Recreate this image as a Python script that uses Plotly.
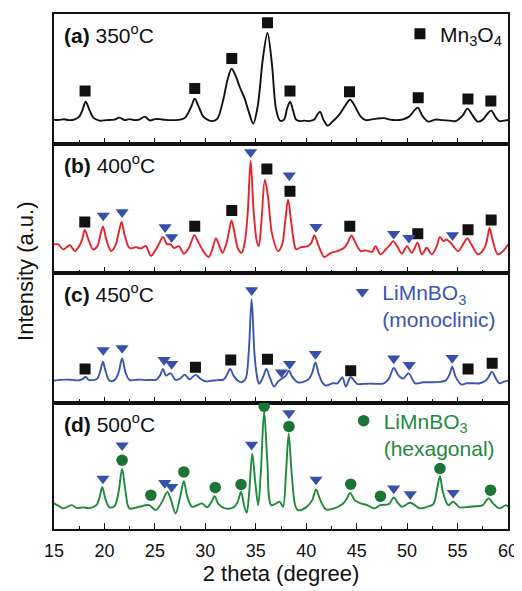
import plotly.graph_objects as go

# ---------------- data ----------------
a_x = [15.0, 15.5, 16.0, 16.5, 17.0, 17.5, 17.8, 18.14, 18.5, 18.9, 19.5, 20.2, 21.0, 21.5, 22.0, 22.5,
       23.0, 23.5, 24.0, 24.5, 25.0, 25.5, 26.0, 26.5, 27.0, 27.5, 28.0, 28.6, 28.95, 29.3, 29.8, 30.3,
       30.7, 31.2, 31.8, 32.2, 32.6, 33.0, 33.4, 33.9, 34.3, 34.75, 35.2, 35.7, 36.16, 36.6, 37.0, 37.4,
       37.8, 38.1, 38.4, 38.7, 39.0, 39.4, 39.8, 40.3, 40.8, 41.1, 41.37, 41.7, 42.12, 42.6, 43.2, 43.8,
       44.35, 44.9, 45.4, 45.9, 46.4, 47.0, 47.7, 48.3, 48.9, 49.5, 50.2, 50.7, 51.06, 51.5, 52.1, 52.8,
       53.5, 54.2, 54.8, 55.5, 55.98, 56.5, 57.0, 57.5, 57.9, 58.33, 58.8, 59.15, 59.6, 60.0]
a_y = [23.7, 23.7, 24.3, 23.5, 24.0, 27.0, 33.0, 42.0, 34.0, 26.0, 23.0, 23.5, 24.0, 26.0, 23.5, 24.5,
       23.5, 24.3, 27.0, 23.2, 24.5, 24.5, 23.7, 23.5, 23.5, 24.0, 26.0, 37.0, 45.0, 38.0, 27.0, 23.5,
       22.5, 25.0, 45.0, 64.0, 75.0, 68.0, 57.0, 45.0, 32.0, 20.0, 38.0, 85.0, 111.0, 80.0, 35.0, 23.0,
       24.0, 35.0, 42.0, 33.0, 24.0, 22.5, 23.0, 22.5, 24.0, 29.0, 32.0, 24.0, 18.0, 22.0, 28.0, 37.0,
       44.0, 36.0, 27.0, 23.5, 24.0, 25.0, 25.5, 24.0, 23.5, 24.0, 27.0, 33.0, 36.0, 28.0, 22.0, 24.0,
       23.5, 23.0, 22.5, 28.0, 35.0, 28.0, 22.0, 24.0, 29.0, 33.0, 26.0, 22.5, 23.0, 23.7]

b_x = [15.0, 15.43, 15.92, 16.57, 17.06, 17.5, 17.8, 18.05, 18.4, 18.87, 19.3, 19.55, 19.85, 20.2, 20.67,
       21.1, 21.4, 21.7, 22.0, 22.4, 22.63, 23.12, 23.61, 24.11, 24.6, 25.0, 25.4, 25.8, 26.2, 26.56,
       26.9, 27.38, 27.87, 28.3, 28.6, 28.92, 29.3, 29.8, 30.33, 30.7, 31.05, 31.4, 31.7, 32.1, 32.35,
       32.6, 32.9, 33.25, 33.6, 33.9, 34.2, 34.49, 34.8, 35.1, 35.3, 35.55, 35.9, 36.2, 36.6, 37.21,
       37.6, 37.9, 38.2, 38.5, 38.8, 39.0, 39.5, 40.16, 40.5, 40.81, 41.2, 41.79, 42.45, 43.1, 43.76,
       44.1, 44.48, 44.9, 45.4, 45.89, 46.54, 46.87, 47.36, 47.9, 48.3, 48.61, 49.0, 49.49, 49.98,
       50.47, 51.03, 51.46, 51.95, 52.44, 52.9, 53.26, 53.6, 53.91, 54.4, 55.06, 55.5, 55.98, 56.4,
       57.02, 57.6, 57.9, 58.17, 58.5, 58.99, 59.5, 60.0]
b_y = [28.7, 28.7, 23.7, 28.0, 22.0, 27.0, 34.0, 43.3, 34.0, 23.7, 27.0, 36.0, 46.7, 33.0, 22.0,
       28.0, 40.0, 51.3, 38.0, 26.0, 24.7, 26.0, 24.7, 27.0, 17.0, 22.0, 29.0, 36.3, 29.0, 28.7,
       25.0, 27.0, 19.3, 24.0, 31.0, 38.0, 31.0, 22.0, 16.0, 24.0, 34.7, 27.0, 20.3, 30.0, 42.0,
       52.7, 40.0, 24.0, 20.3, 30.0, 60.0, 112.7, 60.0, 32.0, 27.0, 50.0, 93.7, 78.0, 40.0, 22.0,
       28.0, 50.0, 73.7, 52.0, 30.0, 23.7, 26.0, 27.0, 30.0, 37.7, 28.0, 16.0, 20.3, 22.0, 25.3,
       30.0, 37.7, 30.0, 22.0, 22.7, 21.3, 27.0, 18.7, 24.0, 28.0, 32.0, 27.0, 19.3, 27.0,
       20.3, 30.3, 18.7, 25.3, 18.7, 26.0, 36.3, 32.0, 33.7, 29.3, 22.0, 28.0, 34.7, 28.0,
       18.7, 24.0, 32.0, 45.3, 32.0, 18.7, 22.0, 28.7]

c_x = [15.0, 15.6, 16.24, 16.8, 17.5, 17.9, 18.14, 18.4, 18.9, 19.3, 19.6, 19.85, 20.1, 20.5, 21.0,
       21.4, 21.75, 22.1, 22.47, 23.0, 23.6, 24.1, 24.6, 25.1, 25.5, 25.81, 26.1, 26.56, 27.05, 27.5,
       27.97, 28.43, 29.02, 29.5, 30.0, 30.5, 31.2, 31.8, 32.1, 32.46, 32.8, 33.2, 33.6, 34.0, 34.3,
       34.59, 34.9, 35.2, 35.34, 35.7, 36.06, 36.4, 36.81, 37.2, 37.54, 38.0, 38.29, 38.6, 39.17, 39.8,
       40.3, 40.6, 40.91, 41.2, 41.6, 41.96, 42.6, 43.1, 43.59, 43.92, 44.41, 45.07, 45.7, 46.3, 47.0,
       47.7, 48.2, 48.67, 49.16, 49.6, 50.15, 50.8, 51.6, 52.4, 53.2, 53.8, 54.2, 54.47, 54.8, 55.39,
       55.9, 56.6, 57.2, 57.8, 58.1, 58.4, 58.8, 59.15, 59.6, 60.0]
c_y = [22.0, 22.7, 23.0, 22.7, 22.3, 24.0, 26.0, 23.0, 22.5, 24.0, 32.0, 41.0, 32.0, 22.0, 22.5,
       30.0, 44.3, 30.0, 22.7, 22.7, 23.0, 22.5, 22.7, 22.7, 27.0, 33.7, 27.0, 29.3, 22.7, 24.0,
       28.0, 23.3, 27.7, 24.0, 21.3, 21.7, 22.5, 23.0, 27.0, 33.7, 27.0, 22.0, 20.3, 24.0, 50.0,
       103.7, 45.0, 22.0, 18.7, 25.0, 33.7, 25.0, 16.0, 21.0, 23.7, 27.0, 32.0, 26.0, 20.3, 21.0,
       24.0, 30.0, 40.3, 30.0, 20.0, 17.0, 19.3, 19.3, 25.3, 16.0, 25.3, 18.7, 18.7, 19.0, 18.7,
       19.3, 24.0, 34.7, 27.0, 24.0, 29.3, 19.3, 20.3, 20.3, 20.7, 22.0, 28.0, 36.0, 26.0, 18.0,
       19.3, 19.3, 19.3, 22.0, 26.0, 31.0, 24.0, 19.3, 21.0, 22.0]

d_x = [15.0, 15.5, 15.92, 16.74, 17.3, 17.88, 18.5, 19.2, 19.5, 19.78, 20.1, 20.5, 21.0, 21.4, 21.75,
       22.1, 22.47, 23.45, 24.43, 25.09, 25.7, 26.23, 26.6, 27.05, 27.5, 27.87, 28.2, 28.69, 29.67,
       30.17, 30.6, 30.92, 31.3, 31.97, 32.8, 33.2, 33.54, 33.85, 34.1, 34.35, 34.65, 34.95, 35.24,
       35.5, 35.83, 36.15, 36.55, 37.37, 37.7, 38.0, 38.26, 38.55, 38.9, 39.17, 39.99, 40.6, 40.97,
       41.4, 41.96, 42.78, 43.6, 44.0, 44.35, 44.8, 45.4, 46.05, 46.71, 47.36, 48.2, 48.67, 49.1,
       49.49, 50.31, 51.29, 51.95, 52.6, 53.0, 53.26, 53.55, 54.08, 54.57, 55.22, 56.2, 57.5, 57.8,
       58.1, 58.5, 59.15, 59.81, 60.0]
d_y = [28.7, 26.0, 23.7, 27.0, 24.0, 24.7, 24.0, 27.0, 34.0, 45.3, 33.0, 24.7, 26.0, 40.0, 63.3,
       40.0, 23.7, 25.3, 27.0, 22.0, 30.0, 40.3, 32.0, 18.7, 35.0, 51.0, 36.0, 25.3, 28.7,
       24.7, 30.0, 36.0, 28.0, 23.7, 24.7, 30.0, 40.3, 26.0, 19.3, 40.0, 78.7, 50.0, 27.0,
       60.0, 121.3, 70.0, 27.0, 30.3, 25.3, 60.0, 98.7, 60.0, 27.0, 22.0, 24.7, 32.0, 42.7,
       32.0, 22.7, 23.7, 28.0, 33.0, 39.3, 32.0, 28.7, 27.0, 23.7, 27.0, 28.0, 34.7, 29.0,
       25.3, 29.3, 23.7, 25.3, 28.0, 45.0, 56.0, 40.0, 27.0, 30.3, 24.7, 25.3, 27.0, 31.0,
       33.7, 29.0, 23.7, 27.0, 25.0]

# phase markers (peak position, marker height)
a_sq_x = [18.08, 28.95, 32.62, 36.16, 38.39, 44.29, 51.1, 56.03, 58.3]
a_sq_y = [52.7, 55.3, 85.3, 121.3, 52.7, 52.0, 46.0, 44.7, 42.7]

b_sq_x = [18.05, 28.95, 32.62, 36.1, 38.39, 44.32, 51.06, 56.04, 58.33]
b_sq_y = [51.3, 47.0, 62.7, 104.3, 82.0, 47.0, 39.3, 43.3, 53.3]
b_tri_x = [19.88, 21.75, 26.01, 26.66, 34.49, 38.32, 40.97, 48.67, 50.18, 54.5]
b_tri_y = [57.7, 61.0, 46.0, 36.0, 121.3, 98.0, 46.3, 39.3, 35.3, 38.0]

c_sq_x = [18.08, 29.02, 32.52, 36.16, 44.41, 56.04, 58.43]
c_sq_y = [33.7, 35.3, 42.7, 43.3, 32.0, 33.7, 39.3]
c_tri_x = [19.88, 21.75, 25.91, 26.66, 34.59, 37.54, 38.35, 40.91, 48.67, 50.21, 54.47]
c_tri_y = [52.7, 54.7, 42.7, 38.7, 112.7, 30.3, 38.7, 48.7, 44.3, 37.7, 44.7]

d_tri_x = [19.85, 21.75, 25.97, 26.66, 34.59, 38.29, 40.97, 48.67, 50.31, 54.57]
d_tri_y = [53.7, 87.0, 49.3, 45.3, 87.7, 119.3, 52.7, 43.7, 38.0, 39.3]
d_cir_x = [21.75, 24.6, 27.87, 30.98, 33.54, 35.83, 38.29, 44.41, 47.36, 53.26, 58.27]
d_cir_y = [72.0, 37.0, 60.3, 44.7, 47.7, 126.3, 106.0, 48.0, 36.0, 63.7, 42.0]

panel_labels = ["<b>(a)</b> 350<sup>o</sup>C", "<b>(b)</b> 400<sup>o</sup>C",
                "<b>(c)</b> 450<sup>o</sup>C", "<b>(d)</b> 500<sup>o</sup>C"]
x_ticks = [15, 20, 25, 30, 35, 40, 45, 50, 55, 60]

# ---------------- styling ----------------
FONT = "Liberation Sans, Arial, sans-serif"
BLACK = "#111111"
RED = "#e8222b"
BLUE_LINE = "#3c55b4"
BLUE_MK = "#3651ad"
GREEN_LINE = "#1d8a3b"
GREEN_MK = "#1b7434"

fig = go.Figure()

def line(x, y, color, n):
    fig.add_trace(go.Scatter(x=x, y=y, mode="lines", line=dict(color=color, width=1.9, shape="spline", smoothing=0.9),
                             xaxis=f"x{n}" if n > 1 else "x", yaxis=f"y{n}" if n > 1 else "y",
                             showlegend=False, hoverinfo="skip"))

def marks(x, y, symbol, color, size, n, name=None, legend=None):
    fig.add_trace(go.Scatter(x=x, y=y, mode="markers",
                             marker=dict(symbol=symbol, color=color, size=size, line=dict(width=0)),
                             xaxis=f"x{n}" if n > 1 else "x", yaxis=f"y{n}" if n > 1 else "y",
                             name=name, showlegend=name is not None, legend=legend or "legend"))

line(a_x, a_y, BLACK, 1)
marks(a_sq_x, a_sq_y, "square", BLACK, 11, 1, name="Mn<sub>3</sub>O<sub>4</sub>", legend="legend")

line(b_x, b_y, RED, 2)
marks(b_sq_x, b_sq_y, "square", BLACK, 11, 2)
marks(b_tri_x, b_tri_y, "triangle-down", BLUE_MK, 11.5, 2)

line(c_x, c_y, BLUE_LINE, 3)
marks(c_sq_x, c_sq_y, "square", BLACK, 11, 3)
marks(c_tri_x, c_tri_y, "triangle-down", BLUE_MK, 11.5, 3, name="LiMnBO<sub>3</sub><br>(monoclinic)", legend="legend2")

line(d_x, d_y, GREEN_LINE, 4)
marks(d_tri_x, d_tri_y, "triangle-down", BLUE_MK, 11.5, 4)
marks(d_cir_x, d_cir_y, "circle", GREEN_MK, 11.5, 4, name="LiMnBO<sub>3</sub><br>(hexagonal)", legend="legend3")

# panel geometry (paper fractions of the plot area)
domains = [[0.7485, 1.0], [0.4971, 0.7485], [0.2456, 0.4971], [0.0, 0.2456]]
yranges = [[0, 130], [0, 130], [0, 130], [3, 130]]

layout = dict(
    width=514, height=583,
    margin=dict(l=46, r=10, t=4, b=62),
    paper_bgcolor="white", plot_bgcolor="white",
    font=dict(family=FONT, color=BLACK, size=18),
    showlegend=True,
)
for i in range(4):
    n = i + 1
    xk = "xaxis" if n == 1 else f"xaxis{n}"
    yk = "yaxis" if n == 1 else f"yaxis{n}"
    layout[xk] = dict(
        domain=[0, 1], anchor="y" if n == 1 else f"y{n}", range=[15, 60],
        tickvals=x_ticks, ticks="inside", ticklen=6, tickwidth=1.3, tickcolor=BLACK,
        minor=dict(dtick=2.5, tick0=15, ticks="inside", ticklen=3.5, tickwidth=1.3, tickcolor=BLACK),
        showline=True, linewidth=1.6, linecolor=BLACK, mirror=True,
        showgrid=False, zeroline=False, showticklabels=(n == 4),
        tickfont=dict(size=18, family=FONT, color=BLACK), ticklabelstandoff=5,
        ticklabeloverflow="allow",
    )
    if n > 1:
        layout[xk]["matches"] = "x"
    layout[yk] = dict(
        domain=domains[i], anchor="x" if n == 1 else f"x{n}", range=yranges[i],
        showline=True, linewidth=1.6, linecolor=BLACK, mirror=True,
        showgrid=False, zeroline=False, showticklabels=False, ticks="",
    )
layout["xaxis4"]["title"] = dict(text="2 theta (degree)", font=dict(size=22, family=FONT, color=BLACK), standoff=2)

layout["legend"] = dict(x=0.762, y=0.961, xanchor="left", yanchor="middle", bgcolor="rgba(0,0,0,0)",
                        font=dict(size=21, family=FONT, color=BLACK), itemclick=False, itemdoubleclick=False)
layout["legend2"] = dict(x=0.635, y=0.4995, xanchor="left", yanchor="top", bgcolor="rgba(0,0,0,0)", valign="top",
                         font=dict(size=21, family=FONT, color=BLUE_LINE), itemclick=False, itemdoubleclick=False)
layout["legend3"] = dict(x=0.638, y=0.2495, xanchor="left", yanchor="top", bgcolor="rgba(0,0,0,0)", valign="top",
                         font=dict(size=21, family=FONT, color=GREEN_LINE), itemclick=False, itemdoubleclick=False)

annotations = []
for i, lab in enumerate(panel_labels):
    n = i + 1
    annotations.append(dict(text=lab, x=15.75, y=109.7, xref="x" if n == 1 else f"x{n}",
                            yref="y" if n == 1 else f"y{n}", xanchor="left", yanchor="middle",
                            showarrow=False, font=dict(size=21, family=FONT, color=BLACK)))
annotations.append(dict(text="Intensity (a.u.)", textangle=-90, x=-0.063, y=0.5, xref="paper", yref="paper",
                        xanchor="center", yanchor="middle", showarrow=False,
                        font=dict(size=22, family=FONT, color=BLACK)))
layout["annotations"] = annotations

fig.update_layout(**layout)
fig.write_html("out.html")
